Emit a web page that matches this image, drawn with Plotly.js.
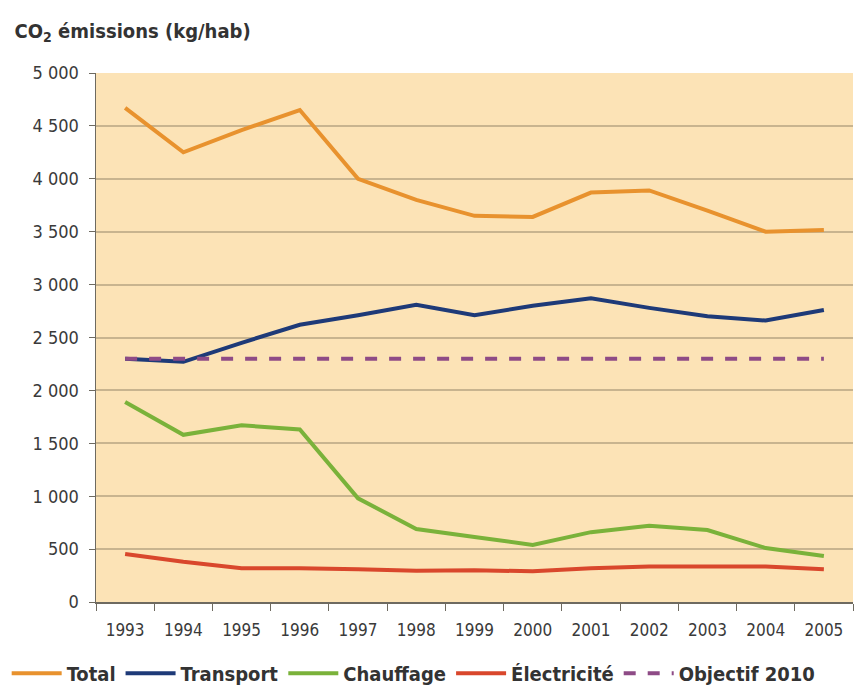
<!DOCTYPE html>
<html>
<head>
<meta charset="utf-8">
<script src="https://cdn.plot.ly/plotly-3.0.1.min.js"></script>
<style>html,body{margin:0;padding:0;background:#fff;}#chart{width:857px;height:689px;}</style>
</head>
<body>
<div id="chart"></div>
<script>
var years = ['1993','1994','1995','1996','1997','1998','1999','2000','2001','2002','2003','2004','2005'];
var total = [4670, 4250, 4460, 4650, 4000, 3800, 3650, 3640, 3870, 3890, 3700, 3500, 3515];
var transport = [2300, 2270, 2450, 2620, 2710, 2810, 2710, 2800, 2870, 2780, 2700, 2660, 2760];
var chauffage = [1890, 1580, 1670, 1630, 980, 690, 615, 540, 660, 720, 680, 510, 435];
var electricite = [454, 380, 320, 320, 310, 295, 300, 290, 320, 335, 335, 335, 310];
var objectif = [2300, 2300, 2300, 2300, 2300, 2300, 2300, 2300, 2300, 2300, 2300, 2300, 2300];
var names = ['Total', 'Transport', 'Chauffage', 'Électricité', 'Objectif 2010'];

var FONT = '"DejaVu Sans Condensed", "Liberation Sans Narrow", "DejaVu Sans", sans-serif';

function tr(y, name, color, dash) {
  return {x: years, y: y, name: name, type: 'scatter', mode: 'lines',
    line: {color: color, width: 4, dash: dash || 'solid', shape: 'linear'}};
}
var data = [
  tr(total, names[0], '#E8922E'),
  tr(transport, names[1], '#1E3A78'),
  tr(chauffage, names[2], '#7AB23A'),
  tr(electricite, names[3], '#D9472C'),
  tr(objectif, names[4], '#8E4B86', 'dash')
];

var layout = {
  width: 857, height: 689,
  paper_bgcolor: '#ffffff',
  plot_bgcolor: '#FCE3B6',
  separators: ', ',
  margin: {l: 96, r: 4, t: 73, b: 87, autoexpand: false},
  font: {family: FONT, size: 17, color: '#3a3a3a'},
  title: {text: 'CO<sub>2</sub> émissions (kg/hab)', x: 0.017, xref: 'container', xanchor: 'left',
    y: 0.955, yref: 'container', yanchor: 'middle',
    font: {family: FONT, size: 20, color: '#333', weight: 'bold'}},
  xaxis: {type: 'category', tickson: 'boundaries', ticks: 'outside', ticklen: 7,
    tickcolor: '#6e6a60', showline: true, linecolor: '#6e6a60', linewidth: 1.5,
    showgrid: false, zeroline: false, range: [-0.5, 12.5], ticklabelstandoff: 12,
    tickfont: {family: FONT, size: 17, color: '#3a3a3a'}},
  yaxis: {range: [0, 5000], dtick: 500, tickformat: ',d', ticks: 'outside', ticklen: 6,
    tickcolor: '#6e6a60', showline: true, linecolor: '#6e6a60', linewidth: 1.5,
    gridcolor: '#C8B48F', gridwidth: 2, zeroline: false, ticklabelstandoff: 6,
    tickfont: {family: FONT, size: 18, color: '#3a3a3a'}},
  showlegend: true,
  legend: {orientation: 'h', x: -0.118, xanchor: 'left', y: -0.098, yanchor: 'top',
    font: {family: FONT, size: 20, color: '#333', weight: 'bold'}, bgcolor: 'rgba(0,0,0,0)',
    itemwidth: 50, traceorder: 'normal'}
};

Plotly.newPlot('chart', data, layout, {displayModeBar: false, staticPlot: true});
</script>
</body>
</html>
